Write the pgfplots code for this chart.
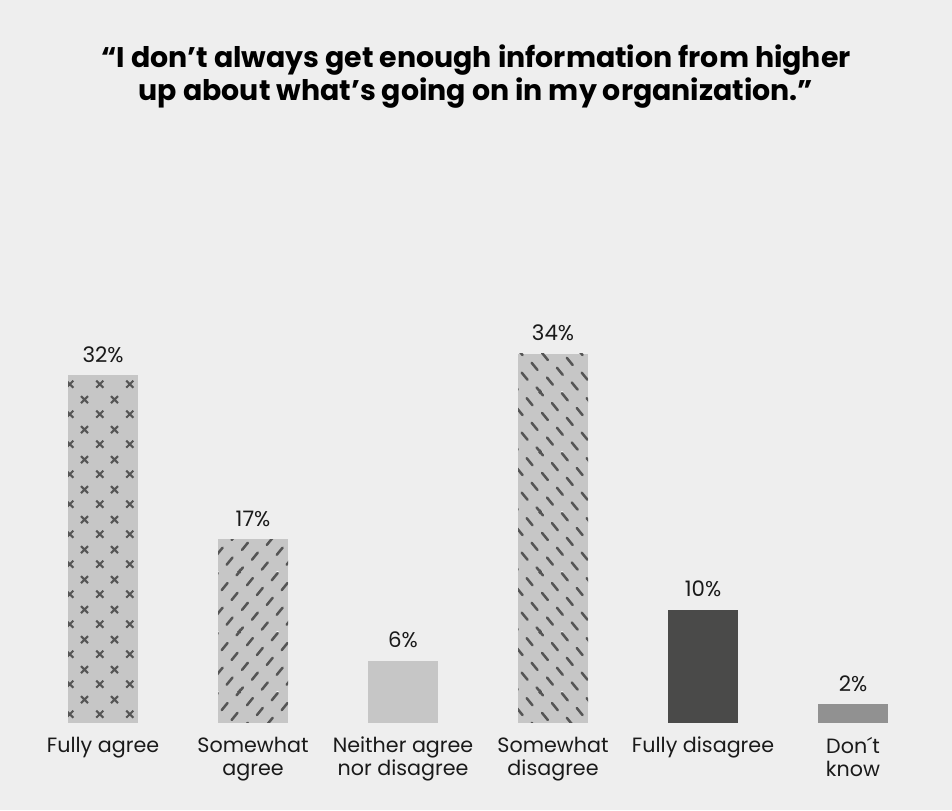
\documentclass[border=0pt]{standalone}
\usepackage{fontspec}
\setmainfont{Poppins}
\usepackage{pgfplots}
\pgfplotsset{compat=1.18}
\usetikzlibrary{patterns.meta}
\definecolor{bgcol}{HTML}{EEEEEE}
\definecolor{barlight}{HTML}{C6C6C6}
\definecolor{patcol}{HTML}{555555}
\definecolor{bardark}{HTML}{4A4A49}
\definecolor{barmid}{HTML}{919191}
\definecolor{txt}{HTML}{1A1A1A}

\pgfdeclarepattern{
  name=xcross, type=uncolored,
  bottom left={\pgfpoint{0pt}{0pt}}, top right={\pgfpoint{22.5pt}{22.5pt}},
  tile size={\pgfpoint{22.5pt}{22.5pt}},
  code={
    \pgfsetlinewidth{1.6pt}
    \pgfpathmoveto{\pgfpoint{4.8pt}{2.55pt}}\pgfpathlineto{\pgfpoint{10.2pt}{7.95pt}}
    \pgfpathmoveto{\pgfpoint{4.8pt}{7.95pt}}\pgfpathlineto{\pgfpoint{10.2pt}{2.55pt}}
    \pgfpathmoveto{\pgfpoint{16.05pt}{13.8pt}}\pgfpathlineto{\pgfpoint{21.45pt}{19.2pt}}
    \pgfpathmoveto{\pgfpoint{16.05pt}{19.2pt}}\pgfpathlineto{\pgfpoint{21.45pt}{13.8pt}}
    \pgfusepath{stroke}
  }
}
\pgfdeclarepattern{
  name=slashes, type=uncolored,
  bottom left={\pgfpoint{0pt}{0pt}}, top right={\pgfpoint{45pt}{45pt}},
  tile size={\pgfpoint{45pt}{45pt}},
  code={
    \pgfsetlinewidth{1.9pt}
    \pgfsetroundcap
    \foreach \px/\py in {0/0,7.5/37.5,15/30,22.5/22.5,30/15,37.5/7.5,18.75/3.75,26.25/41.25,33.75/33.75,41.25/26.25,3.75/18.75,11.25/11.25}{
      \foreach \sx in {-45,0,45}{
        \foreach \sy in {-45,0,45}{
          \pgfpathmoveto{\pgfpoint{\px pt+\sx pt-2.2pt}{\py pt+\sy pt-2.7pt}}
          \pgfpathlineto{\pgfpoint{\px pt+\sx pt+2.2pt}{\py pt+\sy pt+2.7pt}}
          \pgfusepath{stroke}
        }
      }
    }
  }
}
\pgfdeclarepattern{
  name=bslashes, type=uncolored,
  bottom left={\pgfpoint{0pt}{0pt}}, top right={\pgfpoint{45pt}{45pt}},
  tile size={\pgfpoint{45pt}{45pt}},
  code={
    \pgfsetlinewidth{1.9pt}
    \pgfsetroundcap
    \foreach \px/\py in {0/0,7.5/7.5,15/15,22.5/22.5,30/30,37.5/37.5,18.75/41.25,26.25/3.75,33.75/11.25,41.25/18.75,3.75/26.25,11.25/33.75}{
      \foreach \sx in {-45,0,45}{
        \foreach \sy in {-45,0,45}{
          \pgfpathmoveto{\pgfpoint{\px pt+\sx pt-2.2pt}{\py pt+\sy pt+2.7pt}}
          \pgfpathlineto{\pgfpoint{\px pt+\sx pt+2.2pt}{\py pt+\sy pt-2.7pt}}
          \pgfusepath{stroke}
        }
      }
    }
  }
}

\begin{document}
\begin{tikzpicture}[x=1pt,y=1pt]
\fill[bgcol] (0,0) rectangle (714,607.5);
\node[anchor=north, align=center, inner sep=0pt, text=black,
      font=\fontsize{21.3}{24.5}\selectfont\bfseries] at (357,574)
  {“I don’t always get enough information from higher\\up about what’s going on in my organization.”};
\begin{axis}[
  at={(0pt,65.6pt)}, anchor=south west, scale only axis,
  width=714pt, height=541.9pt,
  xmin=-0.687, xmax=5.66, ymin=0, ymax=66.55,
  ybar, bar width=52.5pt, bar shift=0pt,
  axis line style={draw=none}, major tick length=0pt,
  ytick=\empty, xtick={0,1,2,3,4,5},
  xticklabels={Fully agree, Somewhat\\agree, Neither agree\\nor disagree, Somewhat\\disagree, Fully disagree, Don´t\\know},
  xticklabel style={align=center, anchor=north, inner sep=0pt, yshift=-10.5pt,
     font=\fontsize{15.5}{17.5}\selectfont, text=txt},
  nodes near coords, point meta=explicit symbolic,
  every node near coord/.append style={font=\fontsize{16}{18}\selectfont,
     anchor=south, inner sep=0pt, yshift=9.2pt, text=txt},
  clip=false,
]
\addplot[fill=barlight, draw=none, postaction={pattern=xcross, pattern color=patcol}] coordinates {(0,32) [32\%]};
\addplot[fill=barlight, draw=none, postaction={pattern=slashes, pattern color=patcol}] coordinates {(1,16.9) [17\%]};
\addplot[fill=barlight, draw=none] coordinates {(2,5.7) [6\%]};
\addplot[fill=barlight, draw=none, postaction={pattern=bslashes, pattern color=patcol}] coordinates {(3,34) [34\%]};
\addplot[fill=bardark, draw=none] coordinates {(4,10.4) [10\%]};
\addplot[fill=barmid, draw=none] coordinates {(5,1.7) [2\%]};
\end{axis}
\end{tikzpicture}
\end{document}
